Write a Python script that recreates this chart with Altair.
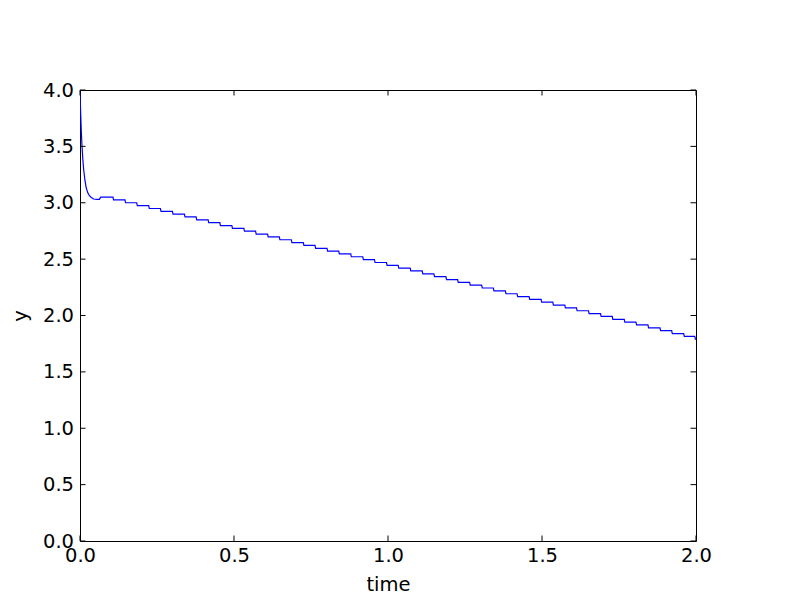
import altair as alt
import pandas as pd

# initial transient (time, y)
decay_t = [0.0, 0.002, 0.004, 0.006, 0.009, 0.012, 0.016, 0.020, 0.025, 0.030, 0.036, 0.044, 0.055, 0.063, 0.067]
decay_y = [4.0, 3.81, 3.65, 3.53, 3.39, 3.29, 3.20, 3.135, 3.09, 3.065, 3.048, 3.033, 3.03, 3.03, 3.05]

# step drops: time of each drop and the level after it
step_t = [0.107, 0.146, 0.184, 0.223, 0.261, 0.300, 0.339, 0.377, 0.416, 0.454,
          0.493, 0.532, 0.570, 0.609, 0.647, 0.686, 0.725, 0.763, 0.802, 0.840,
          0.879, 0.918, 0.956, 0.995, 1.033, 1.072, 1.111, 1.149, 1.188, 1.226,
          1.265, 1.304, 1.342, 1.381, 1.419, 1.458, 1.497, 1.535, 1.574, 1.612,
          1.651, 1.690, 1.728, 1.767, 1.805, 1.844, 1.883, 1.921, 1.960, 1.996]
step_y = [3.025, 3.000, 2.974, 2.949, 2.924, 2.899, 2.874, 2.848, 2.823, 2.798,
          2.773, 2.748, 2.722, 2.697, 2.672, 2.647, 2.622, 2.596, 2.571, 2.546,
          2.521, 2.496, 2.470, 2.445, 2.420, 2.395, 2.370, 2.344, 2.319, 2.294,
          2.269, 2.244, 2.218, 2.193, 2.168, 2.143, 2.118, 2.092, 2.067, 2.042,
          2.017, 1.992, 1.966, 1.941, 1.916, 1.891, 1.866, 1.840, 1.815, 1.790]
end_t = 2.0

x_ticks = [0.0, 0.5, 1.0, 1.5, 2.0]
y_ticks = [0.0, 0.5, 1.0, 1.5, 2.0, 2.5, 3.0, 3.5, 4.0]

# build the line table
ts = list(decay_t)
ys = list(decay_y)
prev = decay_y[-1]
for t, lv in zip(step_t, step_y):
    ts.append(t)
    ys.append(prev)
    ts.append(t + 0.002)
    ys.append(lv)
    prev = lv
ts.append(end_t)
ys.append(prev)
df = pd.DataFrame({"time": ts, "y": ys, "order": range(len(ts))})

W, H = 616, 451
TL = 5.5
FONT = "DejaVu Sans"
FS = 19.5

xs = alt.Scale(domain=[0, 2], nice=False, zero=False)
ysc = alt.Scale(domain=[0, 4], nice=False, zero=False)

line = alt.Chart(df).mark_line(color="#0000ff", strokeWidth=1.2, clip=True).encode(
    x=alt.X("time:Q", scale=xs, title="time",
            axis=alt.Axis(values=x_ticks, format=".1f", tickSize=0, domain=False, grid=False,
                          labelFlush=False, labelOverlap=False,
                          labelPadding=5, titlePadding=11)),
    y=alt.Y("y:Q", scale=ysc, title="y",
            axis=alt.Axis(values=y_ticks, format=".1f", tickSize=0, domain=False, grid=False,
                          labelFlush=False, labelOverlap=False,
                          labelPadding=6.5, titlePadding=12)),
    order="order:Q",
)

xt = pd.DataFrame({"v": x_ticks})
yt = pd.DataFrame({"v": y_ticks})
tick_style = dict(color="black", strokeWidth=1)

bt = alt.Chart(xt).mark_rule(**tick_style).encode(
    x=alt.X("v:Q", scale=xs), y=alt.value(H), y2=alt.value(H - TL))
tt = alt.Chart(xt).mark_rule(**tick_style).encode(
    x=alt.X("v:Q", scale=xs), y=alt.value(0), y2=alt.value(TL))
lt = alt.Chart(yt).mark_rule(**tick_style).encode(
    y=alt.Y("v:Q", scale=ysc), x=alt.value(0), x2=alt.value(TL))
rt = alt.Chart(yt).mark_rule(**tick_style).encode(
    y=alt.Y("v:Q", scale=ysc), x=alt.value(W), x2=alt.value(W - TL))

chart = alt.layer(line, bt, tt, lt, rt).properties(
    width=W, height=H,
    background="white",
    autosize=alt.AutoSizeParams(type="none"),
    padding={"left": 72, "top": 82, "right": 20, "bottom": 70},
).configure_view(stroke="black", strokeWidth=1).configure_axis(
    labelFont=FONT, titleFont=FONT, labelFontSize=FS, titleFontSize=FS,
    labelColor="black", titleColor="black", titleFontWeight="normal",
)

chart.save("out.html", embed_options={"renderer": "svg", "actions": False})
